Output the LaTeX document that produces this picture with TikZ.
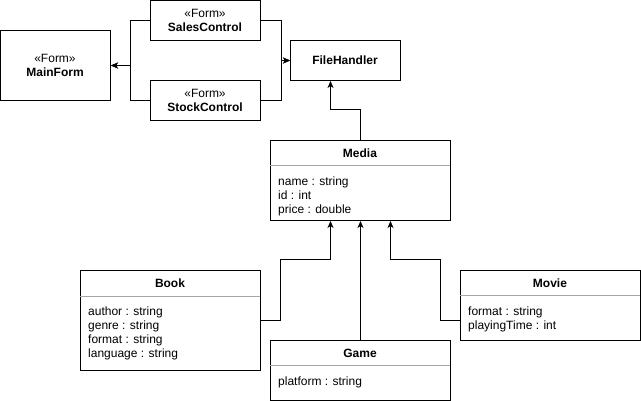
\documentclass[tikz,border=0pt]{standalone}
\usepackage{fontspec}
\setmainfont{Liberation Sans}
\usetikzlibrary{arrows.meta}
\begin{document}
\begin{tikzpicture}[x=1pt,y=-1pt,
  every node/.style={font=\fontsize{12}{14}\selectfont},
  box/.style={draw, line width=1pt, rectangle, inner sep=0pt, anchor=north west},
  ttl/.style={font=\fontsize{12}{14}\selectfont\bfseries, inner sep=0pt},
  attr/.style={font=\fontsize{12}{14}\selectfont, align=left, inner sep=0pt, anchor=north west},
  sep/.style={draw=gray!70, line width=1pt},
  arr/.style={line width=1pt, -{Stealth[length=7pt,width=6pt,inset=2pt]}},
  ln/.style={line width=1pt}]
\useasboundingbox (0,0) rectangle (641,401);
% Form boxes
\node[box, minimum width=110pt, minimum height=70pt, align=center] (mainform) at (0,30) {};
\node[align=center, inner sep=0pt] (mainformt) at (55,65) {«Form»\\\textbf{MainForm}};
\node[box, minimum width=110pt, minimum height=40pt] (sales) at (150,0) {};
\node[align=center, inner sep=0pt] (salest) at (205,20) {«Form»\\\textbf{SalesControl}};
\node[box, minimum width=110pt, minimum height=40pt] (stock) at (150,80) {};
\node[align=center, inner sep=0pt] (stockt) at (205,100) {«Form»\\\textbf{StockControl}};
\node[box, minimum width=110pt, minimum height=40pt] (fh) at (290,40) {};
\node[ttl] (fht) at (345,60) {FileHandler};
% Media
\node[box, minimum width=180pt, minimum height=80pt] (media) at (270,140) {};
\node[ttl] (mediat) at (360,153) {Media};
\draw[sep] (270,166) -- (450,166);
\node[attr] (mediaa) at (278,177) {name : string\\id : int\\price : double};
% Book
\node[box, minimum width=180pt, minimum height=100pt] (book) at (80,270) {};
\node[ttl] (bookt) at (170,283) {Book};
\draw[sep] (80,297) -- (260,297);
\node[attr] (booka) at (88,307) {author : string\\genre : string\\format : string\\language : string};
% Game
\node[box, minimum width=180pt, minimum height=60pt] (game) at (270,340) {};
\node[ttl] (gamet) at (360,353) {Game};
\draw[sep] (270,366) -- (450,366);
\node[attr] (gamea) at (278,377) {platform : string};
% Movie
\node[box, minimum width=180pt, minimum height=70pt] (movie) at (460,270) {};
\node[ttl] (moviet) at (550,283) {Movie};
\draw[sep] (460,296) -- (640,296);
\node[attr] (moviea) at (468,307) {format : string\\playingTime : int};
% connectors
\coordinate (bk) at (280,260);
\coordinate (mv) at (440,260);
\draw[arr] (sales.west) -- ++(-20,0) |- (mainform.east);
\draw[arr] (stock.west) -- ++(-20,0) |- (mainform.east);
\draw[arr] (sales.east) -- ++(20,0) |- (fh.west);
\draw[arr] (stock.east) -- ++(20,0) |- (fh.west);
\draw[arr] (media.north) -- ++(0,-30) -| ([xshift=-15pt]fh.south);
\draw[arr] (book.east) -| (bk) -| ([xshift=-30pt]media.south);
\draw[arr] ([yshift=-15pt]movie.west) -| (mv) -| ([xshift=30pt]media.south);
\draw[arr] (game.north) -- (media.south);
\end{tikzpicture}
\end{document}
